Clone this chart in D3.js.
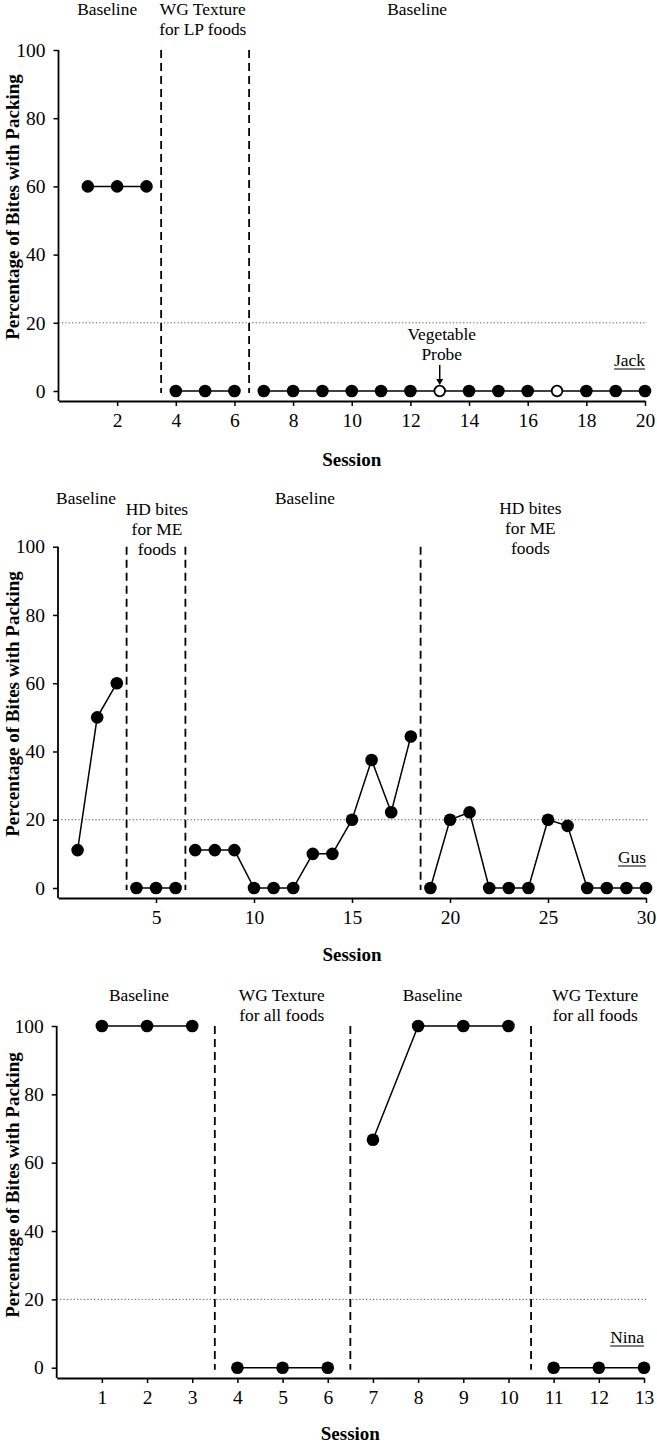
<!DOCTYPE html>
<html><head><meta charset="utf-8">
<script src="https://cdn.jsdelivr.net/npm/d3@7"></script>
<style>
body{margin:0;background:#fff}
svg{display:block}
text{font-family:"Liberation Serif","Times New Roman",serif;fill:#000}
</style>
</head><body>
<svg id="chart" width="657" height="1443"></svg>
<script>
// ---------------- DATA ----------------
// Jack
const jackSessions = [1,2,3,4,5,6,7,8,9,10,11,12,13,14,15,16,17,18,19,20];
const jackValues   = [60,60,60,0,0,0,0,0,0,0,0,0,0,0,0,0,0,0,0,0];
const jackProbeSessions = [13,17];
const jackPhaseChanges = [3.5,6.5];
const jackTicks = [2,4,6,8,10,12,14,16,18,20];
const jackPhaseNames = [["Baseline"],["WG Texture","for LP foods"],["Baseline"]];

// Gus
const gusSessions = [1,2,3,4,5,6,7,8,9,10,11,12,13,14,15,16,17,18,19,20,21,22,23,24,25,26,27,28,29,30];
const gusValues   = [11.1,50,60,0,0,0,11.1,11.1,11.1,0,0,0,10,10,20,37.5,22.2,44.4,0,20,22.2,0,0,0,20,18.2,0,0,0,0];
const gusProbeSessions = [];
const gusPhaseChanges = [3.5,6.5,18.5];
const gusTicks = [5,10,15,20,25,30];
const gusPhaseNames = [["Baseline"],["HD bites","for ME","foods"],["Baseline"],["HD bites","for ME","foods"]];

// Nina
const ninaSessions = [1,2,3,4,5,6,7,8,9,10,11,12,13];
const ninaValues   = [100,100,100,0,0,0,66.7,100,100,100,0,0,0];
const ninaProbeSessions = [];
const ninaPhaseChanges = [3.5,6.5,10.5];
const ninaTicks = [1,2,3,4,5,6,7,8,9,10,11,12,13];
const ninaPhaseNames = [["Baseline"],["WG Texture","for all foods"],["Baseline"],["WG Texture","for all foods"]];

const yTicks = [0,20,40,60,80,100];
const criterion = 20;

// ---------------- LAYOUT ----------------
const panels = [
  {name:"Jack", sessions:jackSessions, values:jackValues, probes:jackProbeSessions, changes:jackPhaseChanges,
   ticks:jackTicks, phaseNames:jackPhaseNames, xDomain:[0,20], xRange:[58.5,645],
   yTop:50, yZero:391, axisY:401, labelX:[1.66,4.92,12.23], labelY:[15,15,15], lineH:20,
   nameY:366, yTitleC:207, sessionY:466, arrowAt:13, probeLabel:["Vegetable","Probe"]},
  {name:"Gus", sessions:gusSessions, values:gusValues, probes:gusProbeSessions, changes:gusPhaseChanges,
   ticks:gusTicks, phaseNames:gusPhaseNames, xDomain:[0,30], xRange:[58,646],
   yTop:546.7, yZero:888, axisY:898, labelX:[1.43,5.05,12.6,24.1], labelY:[504,515,504,514], lineH:20,
   nameY:863, yTitleC:704, sessionY:961},
  {name:"Nina", sessions:ninaSessions, values:ninaValues, probes:ninaProbeSessions, changes:ninaPhaseChanges,
   ticks:ninaTicks, phaseNames:ninaPhaseNames, xDomain:[0,13], xRange:[56.7,644],
   yTop:1026, yZero:1367.7, axisY:1378, labelX:[1.82,4.98,8.32,11.92], labelY:[1001,1001,1001,1001], lineH:20,
   nameY:1343, yTitleC:1185, sessionY:1440}
];

const svg = d3.select("#chart");

panels.forEach(p => {
  const g = svg.append("g");
  const x = d3.scaleLinear().domain(p.xDomain).range(p.xRange);
  const y = d3.scaleLinear().domain([0,100]).range([p.yZero, p.yTop]);
  const x0 = p.xRange[0], x1 = p.xRange[1];

  // criterion dotted line
  g.append("line")
    .attr("x1", x0).attr("x2", x1 + 2)
    .attr("y1", y(criterion)).attr("y2", y(criterion))
    .attr("stroke", "#555").attr("stroke-width", 1)
    .attr("stroke-dasharray", "1.2,2.2");

  // phase change lines
  g.selectAll(".phase").data(p.changes).enter().append("line")
    .attr("x1", d => x(d)).attr("x2", d => x(d))
    .attr("y1", y(100)).attr("y2", y(0) + 2)
    .attr("stroke", "#000").attr("stroke-width", 1.8)
    .attr("stroke-dasharray", "8,5");

  // y axis
  const yAxis = d3.axisLeft(y).tickValues(yTicks).tickSize(5).tickSizeOuter(0).tickPadding(8);
  const ya = g.append("g").attr("transform", `translate(${x0},0)`).call(yAxis);
  ya.select(".domain").remove();
  ya.selectAll("line").attr("stroke-width", 1.5);
  ya.selectAll("text").style("font-size", "19.5px").style("font-family", '"Liberation Serif",serif');
  g.append("line").attr("x1", x0).attr("x2", x0).attr("y1", y(100)).attr("y2", p.axisY)
    .attr("stroke", "#000").attr("stroke-width", 1.8);

  // x axis
  const xAxis = d3.axisBottom(x).tickValues(p.ticks).tickSize(5).tickSizeOuter(0).tickPadding(7).tickFormat(d3.format("d"));
  const xa = g.append("g").attr("transform", `translate(0,${p.axisY})`).call(xAxis);
  xa.select(".domain").attr("stroke-width", 1.8);
  xa.selectAll("line").attr("stroke-width", 1.5);
  xa.selectAll("text").style("font-size", "19.5px").style("font-family", '"Liberation Serif",serif');

  // data: split by phase
  const pts = p.sessions.map((s, i) => ({s, v: p.values[i], phase: p.changes.filter(c => c < s).length,
                                          probe: p.probes.includes(s)}));
  const groups = d3.groups(pts, d => d.phase);
  const line = d3.line().x(d => x(d.s)).y(d => y(d.v));
  groups.forEach(([k, arr]) => {
    g.append("path").datum(arr).attr("d", line)
      .attr("fill", "none").attr("stroke", "#000").attr("stroke-width", 1.5);
  });
  g.selectAll(".pt").data(pts).enter().append("circle")
    .attr("cx", d => x(d.s)).attr("cy", d => y(d.v))
    .attr("r", d => d.probe ? 5.3 : 6.3)
    .attr("fill", d => d.probe ? "#fff" : "#000")
    .attr("stroke", "#000").attr("stroke-width", d => d.probe ? 1.8 : 0);

  // phase labels
  p.phaseNames.forEach((lines, i) => {
    const t = g.append("text").attr("text-anchor", "middle").style("font-size", "17.4px");
    lines.forEach((ln, j) => {
      t.append("tspan").attr("x", x(p.labelX[i])).attr("y", p.labelY[i] + j * p.lineH).text(ln);
    });
  });

  // participant name, underlined
  const nm = g.append("text").attr("x", x1).attr("y", p.nameY).attr("text-anchor", "end")
    .style("font-size", "17.4px").text(p.name);
  const w = nm.node().getComputedTextLength();
  g.append("line").attr("x1", x1 - w).attr("x2", x1).attr("y1", p.nameY + 3).attr("y2", p.nameY + 3)
    .attr("stroke", "#000").attr("stroke-width", 1);

  // probe annotation
  if (p.probeLabel) {
    const ax = x(p.arrowAt);
    const t = g.append("text").attr("text-anchor", "middle").style("font-size", "17.4px");
    p.probeLabel.forEach((ln, j) => t.append("tspan").attr("x", ax + 2).attr("y", y(0) - 51 + j * 20).text(ln));
    g.append("line").attr("x1", ax).attr("x2", ax).attr("y1", y(0) - 26).attr("y2", y(0) - 11)
      .attr("stroke", "#000").attr("stroke-width", 1.5);
    g.append("path").attr("d", `M${ax - 3.5},${y(0) - 12} L${ax + 3.5},${y(0) - 12} L${ax},${y(0) - 6} Z`)
      .attr("fill", "#000");
  }

  // axis titles
  g.append("text").attr("x", (x0 + x1) / 2).attr("y", p.sessionY).attr("text-anchor", "middle")
    .style("font-size", "19px").style("font-weight", "bold").text("Session");
  g.append("text").attr("transform", `translate(19,${p.yTitleC}) rotate(-90)`).attr("text-anchor", "middle")
    .style("font-size", "19px").style("font-weight", "bold").text("Percentage of Bites with Packing");
});
</script>
</body></html>
